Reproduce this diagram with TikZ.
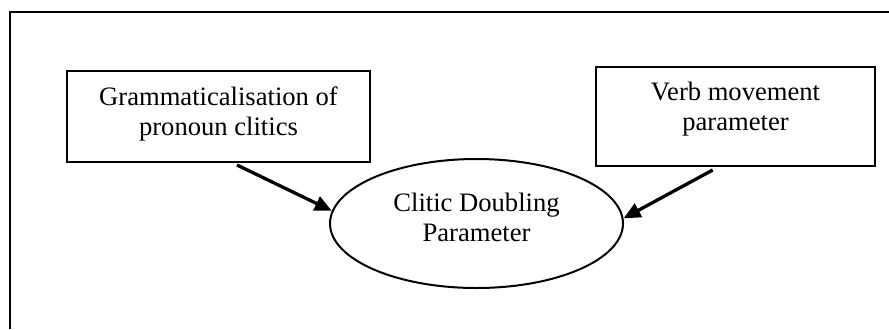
\documentclass[tikz,border=0pt]{standalone}
\usepackage{fontspec}
\setmainfont{Liberation Serif}
\usepackage{tikz}
\usetikzlibrary{arrows.meta,positioning,shapes.geometric}
\tikzset{
  box/.style={rectangle,draw=black,line width=1pt,align=center,
    font=\fontsize{13.3}{15}\selectfont},
  bubble/.style={ellipse,draw=black,line width=1pt,align=center,inner sep=0pt,
    minimum width=146.5pt,minimum height=64.5pt,font=\fontsize{13.3}{15}\selectfont},
  arrow/.style={-{Triangle[length=8.5pt,width=7.5pt]},line width=1.65pt,draw=black},
  frame/.style={draw=black,line width=1pt}
}
\begin{document}
\begin{tikzpicture}[x=0.5pt,y=0.5pt]
\useasboundingbox (0,0) rectangle (889,329);
\draw[frame] (10,0) -- (10,317) -- (889,317);
\node[box,minimum width=151.5pt,minimum height=45.5pt,text depth=5.4pt] (gram) at (218.5,212.5) {Grammaticalisation of\\pronoun clitics};
\node[box,minimum width=139.5pt,minimum height=49.5pt,text depth=10.7pt] (verb) at (735.5,212.5) {Verb movement\\parameter};
\node[bubble,text depth=6pt] (cd) at (476.5,105.5) {Clitic Doubling\\Parameter};
\coordinate (gtail) at (237,164);
\coordinate (vtail) at (712.7,159);
\draw[arrow] (gtail) -- (cd.175); \draw[arrow] (vtail) -- (cd.2.7);
\end{tikzpicture}
\end{document}
